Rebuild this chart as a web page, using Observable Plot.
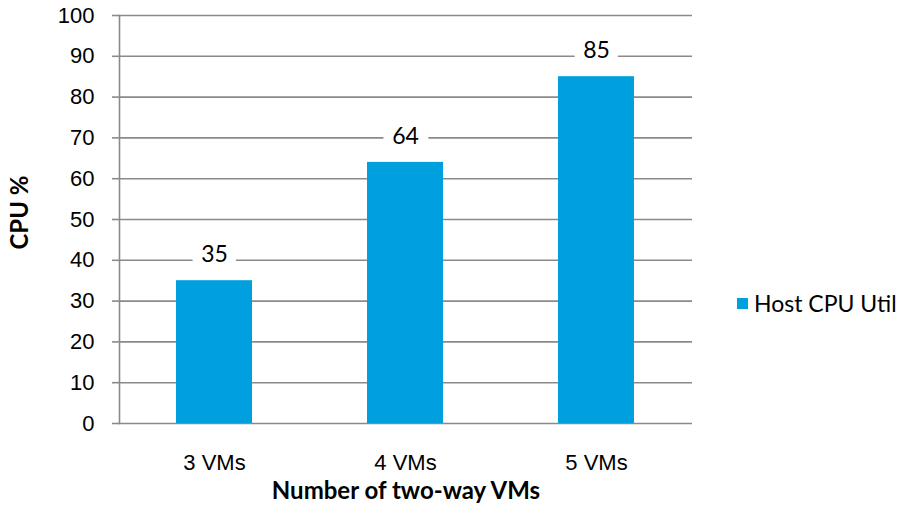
<!DOCTYPE html>
<html>
<head>
<meta charset="utf-8">
<script src="https://cdn.jsdelivr.net/npm/d3@7"></script>
<script src="https://cdn.jsdelivr.net/npm/@observablehq/plot@0.6"></script>
<style>
  html, body { margin: 0; padding: 0; background: #fff; }
  #wrap { position: relative; width: 903px; height: 529px; }
  #legend { position: absolute; left: 737px; top: 289px; font-family: Lato, "Open Sans", sans-serif; font-size: 23px; color: #000; display: flex; align-items: center; white-space: nowrap; }
  #legend .sw { width: 11px; height: 11px; background: #00A0DE; margin-right: 6px; }
</style>
</head>
<body>
<div id="wrap"></div>
<script>
const categories = ["3 VMs", "4 VMs", "5 VMs"];
const values = [35, 64, 85];
const seriesName = "Host CPU Util";
const yTicks = [0, 10, 20, 30, 40, 50, 60, 70, 80, 90, 100];
const yTitle = "CPU %";
const xTitle = "Number of two-way VMs";

const data = categories.map((c, i) => ({category: c, value: values[i]}));
const barColor = "#00A0DE";
const gridColor = "#8a8a8a";
const labelFont = "Lato, 'Open Sans', sans-serif";

const chart = Plot.plot({
  width: 903,
  height: 529,
  marginLeft: 119,
  marginRight: 211,
  marginTop: 15,
  marginBottom: 106,
  style: {background: "#fff", fontFamily: "'Liberation Sans', Arial, sans-serif", fontSize: "22px", color: "#000"},
  x: {domain: categories, paddingInner: 0.6, paddingOuter: 0.3, label: null},
  y: {domain: [0, 100], label: null},
  marks: [
    Plot.ruleY(yTicks, {stroke: gridColor, strokeWidth: 1.6}),
    Plot.frame({anchor: "left", stroke: gridColor, strokeWidth: 1.6}),
    Plot.axisY({ticks: yTicks, tickSize: 7, tickPadding: 18, stroke: gridColor, strokeWidth: 1.6, fontSize: 22, label: null}),
    Plot.axisX({tickSize: 0, tickPadding: 31, fontSize: 22, label: null}),
    Plot.barY(data, {x: "category", y: "value", fill: barColor}),
    Plot.text(data, {x: "category", y: "value", text: d => String(d.value), dy: -26, lineAnchor: "middle",
      fontFamily: labelFont, fontSize: 23, fontWeight: "normal", fill: "#000", stroke: "#fff", strokeWidth: 20}),
    Plot.text([yTitle], {frameAnchor: "left", textAnchor: "middle", dx: -99, dy: -7, rotate: -90, fontWeight: "bold", fontFamily: labelFont, fontSize: 24, fill: "#000"}),
    Plot.text([xTitle], {frameAnchor: "bottom", textAnchor: "middle", dy: 75, fontWeight: "bold", fontFamily: labelFont, fontSize: 24, fill: "#000"})
  ]
});

const wrap = document.getElementById("wrap");
wrap.appendChild(chart);
const legend = document.createElement("div");
legend.id = "legend";
legend.innerHTML = `<div class="sw"></div><span>${seriesName}</span>`;
wrap.appendChild(legend);
</script>
</body>
</html>
